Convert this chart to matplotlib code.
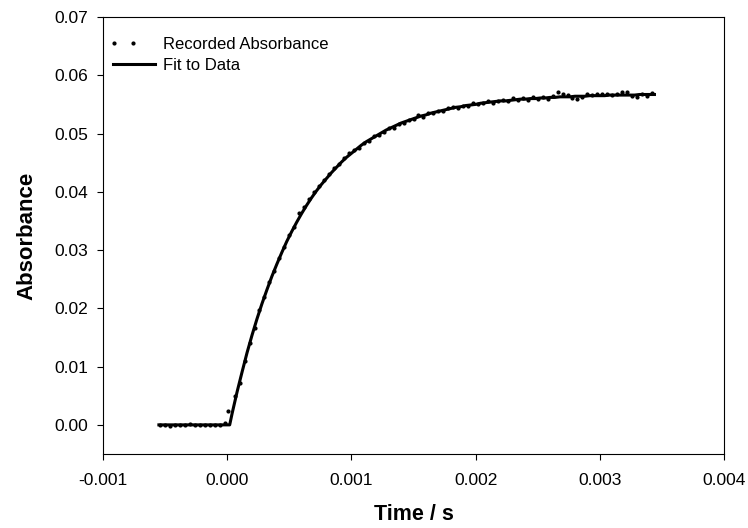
import matplotlib
matplotlib.use("Agg")
import matplotlib.pyplot as plt
from matplotlib.legend_handler import HandlerLine2D

plt.rcParams["font.family"] = ["Liberation Sans", "DejaVu Sans"]

############################################################
# Data
############################################################

pre_time = [-0.00054, -0.00050, -0.00046, -0.00042, -0.00038, -0.00034, -0.00030,
            -0.00026, -0.00022, -0.00018, -0.00014, -0.00010, -0.00006, -0.00002]
pre_abs = [0.0000, 0.0000, -0.0002, 0.0000, 0.0000, 0.0000, 0.0001,
           0.0000, 0.0000, -0.0001, 0.0000, 0.0000, 0.0000, 0.0004]

rise_time = [0.00001] + [round(0.00002 + 0.00004 * k, 5) for k in range(1, 86)]
rise_abs = [
    0.0024, 0.0050, 0.0072, 0.0110, 0.0141, 0.0166, 0.0197, 0.0219, 0.0246, 0.0264,
    0.0287, 0.0305, 0.0326, 0.0339, 0.0363, 0.0374, 0.0388, 0.0399, 0.0410, 0.0421,
    0.0430, 0.0440, 0.0448, 0.0458, 0.0466, 0.0472, 0.0476, 0.0484, 0.0487, 0.0495,
    0.0498, 0.0502, 0.0509, 0.0510, 0.0517, 0.0518, 0.0524, 0.0525, 0.0531, 0.0529,
    0.0536, 0.0535, 0.0539, 0.0538, 0.0543, 0.0546, 0.0544, 0.0548, 0.0547, 0.0552,
    0.0550, 0.0552, 0.0556, 0.0553, 0.0555, 0.0558, 0.0555, 0.0561, 0.0557, 0.0561,
    0.0558, 0.0562, 0.0559, 0.0563, 0.0560, 0.0564, 0.0572, 0.0568, 0.0566, 0.0561,
    0.0560, 0.0563, 0.0567, 0.0566, 0.0568, 0.0567, 0.0568, 0.0566, 0.0568, 0.0571,
    0.0572, 0.0565, 0.0563, 0.0568, 0.0565, 0.0569,
]

recorded_time = pre_time + rise_time
recorded_abs = pre_abs + rise_abs

fit_time = [-0.00055, 0.00002] + [round(0.00004 * k, 5) for k in range(1, 87)]
fit_abs = [
    0.0000, 0.0000,
    0.0020, 0.0057, 0.0091, 0.0124, 0.0154, 0.0182, 0.0208, 0.0232, 0.0255, 0.0276,
    0.0296, 0.0315, 0.0332, 0.0348, 0.0363, 0.0377, 0.0390, 0.0402, 0.0413, 0.0423,
    0.0433, 0.0442, 0.0451, 0.0459, 0.0466, 0.0473, 0.0480, 0.0486, 0.0491, 0.0496,
    0.0501, 0.0506, 0.0510, 0.0514, 0.0518, 0.0521, 0.0524, 0.0527, 0.0530, 0.0532,
    0.0535, 0.0537, 0.0539, 0.0541, 0.0543, 0.0545, 0.0546, 0.0548, 0.0549, 0.0550,
    0.0552, 0.0553, 0.0554, 0.0555, 0.0556, 0.0556, 0.0557, 0.0558, 0.0559, 0.0559,
    0.0560, 0.0560, 0.0561, 0.0561, 0.0562, 0.0562, 0.0563, 0.0563, 0.0563, 0.0564,
    0.0564, 0.0564, 0.0565, 0.0565, 0.0565, 0.0565, 0.0566, 0.0566, 0.0566, 0.0566,
    0.0566, 0.0566, 0.0567, 0.0567, 0.0567, 0.0567,
]

x_ticks = [-0.001, 0.000, 0.001, 0.002, 0.003, 0.004]
y_ticks = [0.00, 0.01, 0.02, 0.03, 0.04, 0.05, 0.06, 0.07]


############################################################
# Legend handle: two dots on the left half of the handle
############################################################

class DotsHandler(HandlerLine2D):

    def get_xdata(self, legend, xdescent, ydescent, width, height, fontsize):
        xs = [-xdescent + 0.03 * width, -xdescent + 0.48 * width]
        return xs, xs


############################################################
# Plot
############################################################

fig = plt.figure(figsize=(7.48, 5.28), dpi=100)
ax = fig.add_axes([103 / 748, 74 / 528, 621 / 748, 437 / 528])

dots, = ax.plot(recorded_time, recorded_abs, linestyle="none", marker="o",
                markersize=2.0, color="black", label="Recorded Absorbance")
ax.plot(fit_time, fit_abs, color="black", linewidth=2.2,
        label="Fit to Data")

ax.set_xlim(-0.001, 0.004)
ax.set_ylim(-0.005, 0.07)
ax.set_xticks(x_ticks)
ax.set_yticks(y_ticks)
ax.set_xticklabels([f"{v:.3f}" for v in x_ticks])
ax.set_yticklabels([f"{v:.2f}" for v in y_ticks])
ax.tick_params(direction="out", length=4.5, width=0.8, labelsize=12.5)
ax.tick_params(axis="x", pad=9)
ax.tick_params(axis="y", pad=6)

for spine in ax.spines.values():
    spine.set_linewidth(0.8)

ax.set_xlabel("Time / s", fontsize=15.5, fontweight="bold", labelpad=12)
ax.set_ylabel("Absorbance", fontsize=16, fontweight="bold", labelpad=12)

ax.legend(loc="upper left", bbox_to_anchor=(0.016, 0.954), frameon=False,
          fontsize=12, handlelength=2.5, handletextpad=0.5,
          labelspacing=0.35, borderaxespad=0, borderpad=0,
          handler_map={dots: DotsHandler(numpoints=2)})

fig.savefig("out.png", dpi=100)
